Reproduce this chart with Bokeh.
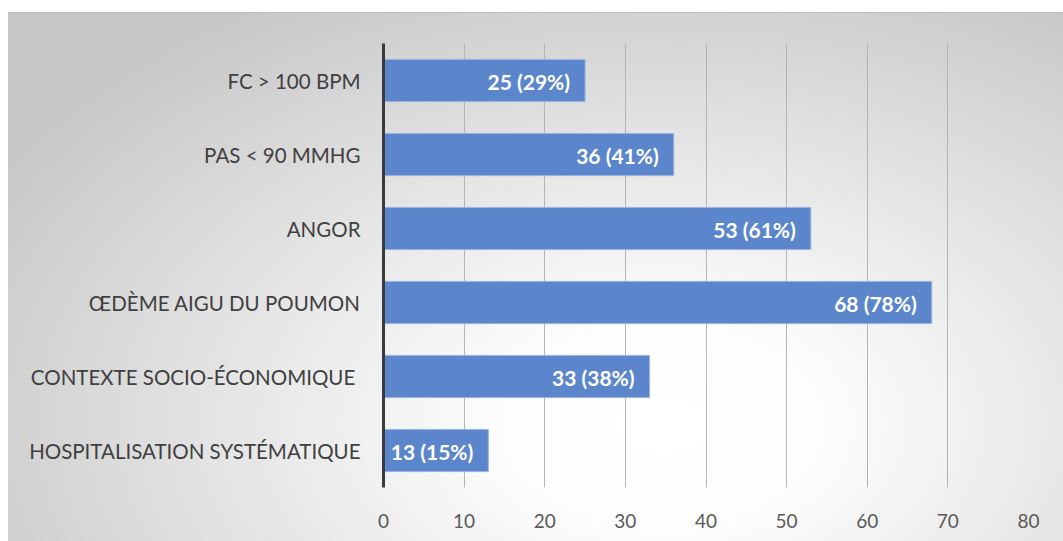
from bokeh.plotting import figure
from bokeh.models import ColumnDataSource, FixedTicker, Range1d
from bokeh.core.properties import value
from bokeh.embed import file_html
from bokeh.resources import INLINE

categories = [
    "FC > 100 BPM",
    "PAS < 90 MMHG",
    "ANGOR",
    "ŒDÈME AIGU DU POUMON",
    "CONTEXTE SOCIO-ÉCONOMIQUE ",
    "HOSPITALISATION SYSTÉMATIQUE",
]
counts = [25, 36, 53, 68, 33, 13]
percents = [29, 41, 61, 78, 38, 15]
x_ticks = [0, 10, 20, 30, 40, 50, 60, 70, 80]

labels = [f"{c} ({p}%)" for c, p in zip(counts, percents)]
src = ColumnDataSource(dict(cat=categories, count=counts, label=labels))

W, H = 1055, 529
p = figure(
    width=W, height=H,
    y_range=list(reversed(categories)),
    x_range=Range1d(0, 80),
    output_backend="svg",
    toolbar_location=None,
    min_border_left=375, min_border_right=35,
    min_border_top=30, min_border_bottom=55,
)
p.background_fill_color = None
p.border_fill_color = None
p.outline_line_color = None
p.styles = {
    "background": "radial-gradient(ellipse 75% 95% at 62% 78%, #ffffff 0%, #fdfdfd 20%, #c6c6c6 100%)",
    "margin-top": "12px",
    "margin-left": "8px",
    "border-top": "1px solid #bdbdbd",
}

p.hbar(y="cat", right="count", left=0, height=0.57, source=src,
       fill_color="#5B86CB", line_color="#9DB4DF", line_width=1)

p.text(x="count", y="cat", text="label", source=src,
       text_align="right", text_baseline="middle", x_offset=-15, y_offset=1,
       text_color="white", text_font=value("Lato"), text_font_style="bold",
       text_font_size="21px")

p.ygrid.grid_line_color = None
p.xgrid.ticker = FixedTicker(ticks=x_ticks)
p.xgrid.grid_line_color = "#b5b5b5"
p.xgrid.grid_line_width = 1

p.xaxis.ticker = FixedTicker(ticks=x_ticks)
p.xaxis.axis_line_color = None
p.xaxis.major_tick_line_color = None
p.xaxis.minor_tick_line_color = None
p.xaxis.major_label_standoff = 20
p.xaxis.major_label_text_font = "Lato"
p.xaxis.major_label_text_font_size = "19px"
p.xaxis.major_label_text_color = "#595959"

p.yaxis.axis_line_color = "#3a3a3a"
p.yaxis.axis_line_width = 3
p.yaxis.major_tick_line_color = None
p.yaxis.minor_tick_line_color = None
p.yaxis.major_label_standoff = 17
p.yaxis.major_label_text_font = "Lato"
p.yaxis.major_label_text_font_size = "20.5px"
p.yaxis.major_label_text_color = "#404040"

open("out.html", "w").write(file_html(p, INLINE))
